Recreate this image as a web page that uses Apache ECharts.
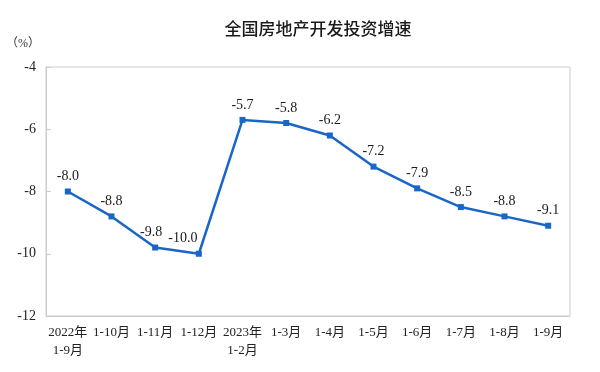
<!DOCTYPE html>
<html><head><meta charset="utf-8">
<script src="https://cdn.jsdelivr.net/npm/echarts@6/dist/echarts.min.js"></script>
<style>html,body{margin:0;padding:0;background:#fff}#c{width:600px;height:372px}</style>
</head><body><div id="c"></div>
<script>
const categories = ["2022年\n1-9月","1-10月","1-11月","1-12月","2023年\n1-2月","1-3月","1-4月","1-5月","1-6月","1-7月","1-8月","1-9月"];
const values = [-8.0,-8.8,-9.8,-10.0,-5.7,-5.8,-6.2,-7.2,-7.9,-8.5,-8.8,-9.1];
const yTicks = [-12,-10,-8,-6,-4];
const labelShift = [0,0,-4,-16,0,0,0,0,0,0,0,0];
const serif = '"Liberation Serif","Times New Roman","Noto Sans CJK SC",serif';
const chart = echarts.init(document.getElementById('c'));
chart.setOption({
  animation:false,
  title:{text:'全国房地产开发投资增速',left:313,textAlign:'center',top:15,
    textStyle:{fontFamily:'"Noto Sans CJK SC",sans-serif',fontSize:17,fontWeight:500,color:'#1a1a1a'}},
  graphic:[{type:'text',left:6,top:38,style:{text:'（%）',font:'12px '+serif,fill:'#333'}}],
  grid:{left:46,right:30,top:67,bottom:56,show:true,borderColor:'#ccc',borderWidth:1},
  xAxis:{type:'category',data:categories,boundaryGap:true,
    axisLine:{lineStyle:{color:'#ccc'}},
    axisTick:{inside:true,length:5,lineStyle:{color:'#ccc'}},
    axisLabel:{interval:0,fontFamily:serif,fontSize:13,color:'#222',lineHeight:18,margin:8}},
  yAxis:{type:'value',min:yTicks[0],max:yTicks[yTicks.length-1],interval:2,
    splitLine:{show:false},
    axisLine:{show:true,lineStyle:{color:'#ccc'}},
    axisTick:{show:true,inside:true,length:5,lineStyle:{color:'#ccc'}},
    axisLabel:{fontFamily:serif,fontSize:14,color:'#222',margin:10}},
  series:[{type:'line',symbol:'rect',symbolSize:6,
    data:values.map((v,i)=>({value:v,label:{offset:[labelShift[i],0]}})),
    lineStyle:{color:'#1a66c8',width:2.5},itemStyle:{color:'#1a66c8'},
    label:{show:true,position:'top',distance:5,fontFamily:serif,fontSize:14,color:'#1a1a1a',
      formatter:p=>p.value.toFixed(1)}}]
});
</script></body></html>
